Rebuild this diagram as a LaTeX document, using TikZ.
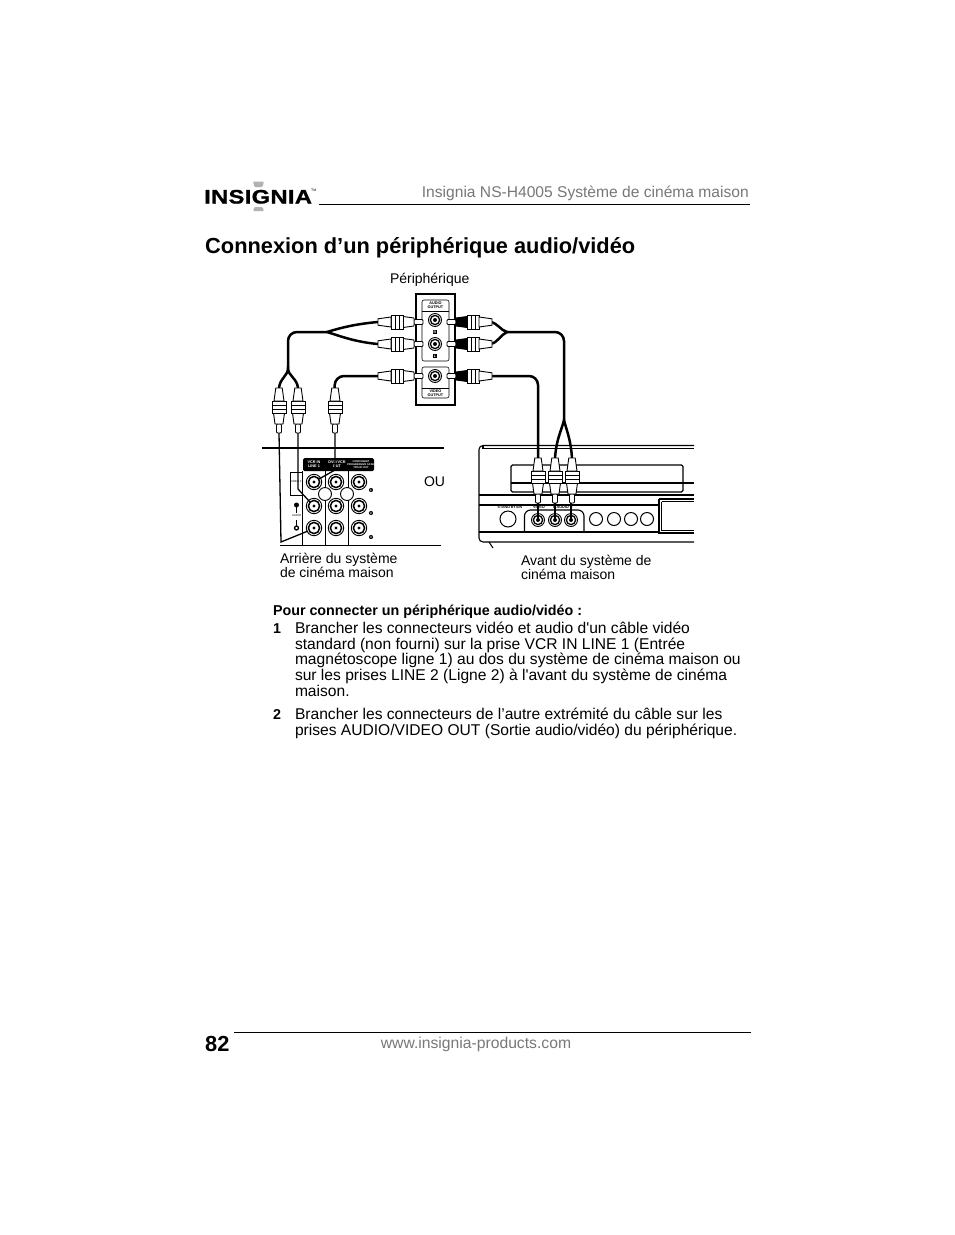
\documentclass[tikz,border=0pt]{standalone}
\usepackage{fontspec}
\setmainfont{Liberation Sans}[Ligatures=TeXOff]
\newfontfamily\logof[FakeStretch=1.22,FakeBold=1,LetterSpace=1.5]{Liberation Sans}
\definecolor{hdr}{gray}{0.47}
\tikzset{x=1pt,y=-1pt,
 txt/.style={inner sep=0pt,outer sep=0pt,anchor=base west,font=\fontsize{15.6}{16}\selectfont},
 boldtxt/.style={inner sep=0pt,outer sep=0pt,anchor=base west,font=\bfseries\fontsize{14.3}{15}\selectfont},
 sml/.style={inner sep=0pt,outer sep=0pt,anchor=base west,font=\fontsize{14}{14}\selectfont},
 microtxt/.style={inner sep=0pt,font=\bfseries\fontsize{3.8}{4.2}\selectfont,align=center},
 cable/.style={line width=2.5pt,line cap=round,line join=round,rounded corners=9pt},
 wire/.style={line width=1.3pt},
 panel/.style={line width=1.1pt},
 jackc/.style={line width=0.9pt,draw,fill=white}}
\newcommand{\plug}[4]{\begin{scope}[shift={#1},x={#2},y={#3},line width=0.9pt]
 \draw[fill=white,rounded corners=1pt] (0,-2.5) -- (9,-2.5) -- (9,2.5) -- (0,2.5) -- cycle;
 \draw[fill=#4] (9,-4) -- (20,-5.5) -- (20,5.5) -- (9,4) -- cycle;
 \draw[fill=white] (20,-7) rectangle (32,7);
 \draw (24,-7) -- (24,7) (28,-7) -- (28,7);
 \draw[fill=white] (32,-5) -- (45,-3.2) -- (45,3.2) -- (32,5) -- cycle;
\end{scope}}
\newcommand{\jackR}[2]{\draw[jackc] (#1,#2) circle (7.7); \draw[line width=1.5pt] (#1,#2) circle (5.6); \fill (#1,#2) circle (1.6);}
\newcommand{\jackF}[2]{\draw[jackc] (#1,#2) circle (6.5); \draw[line width=1.3pt] (#1,#2) circle (4.6); \fill (#1,#2) circle (2);}
\begin{document}
\begin{tikzpicture}
\useasboundingbox (0,0) rectangle (954,1235);
\fill[white] (0,0) rectangle (954,1235);
% ---------- header
\fill[gray!60,rounded corners=1pt] (253,181.5) -- (264,181.5) -- (262.5,187) -- (254.5,187) -- cycle;
\fill[gray!60,rounded corners=1pt] (254.5,207) -- (262.5,207) -- (264,211) -- (253,211) -- cycle;
\node[inner sep=0pt,anchor=base west] (logo) at (204,203.5) {\logof\bfseries\fontsize{19.5}{20}\selectfont INSIGNIA};
\node[inner sep=0pt,anchor=base west] (tm) at (311,191) {\fontsize{3.5}{4}\selectfont TM};
\node[inner sep=0pt,anchor=base east,text=hdr,font=\fontsize{15.6}{16}\selectfont] (runhead) at (749,197) {Insignia NS-H4005 Système de cinéma maison};
\draw[line width=1.1pt] (319,204.5) -- (750,204.5);
\node[inner sep=0pt,anchor=base west,font=\bfseries\fontsize{21.8}{24}\selectfont] (title) at (205,253) {Connexion d’un périphérique audio/vidéo};
% ---------- labels
\node[sml] (peri) at (390,283) {Périphérique};
\node[sml] (ou) at (424,486) {OU};
\node[sml] (arr1) at (280,563) {Arrière du système};
\node[sml] (arr2) at (280,577) {de cinéma maison};
\node[sml] (av1) at (521,565) {Avant du système de};
\node[sml] (av2) at (521,579) {cinéma maison};
% ---------- peripheral
\draw[panel] (416,294) rectangle (455,405);
\draw[line width=0.6pt,rounded corners=2pt] (422,300) rectangle (449,361);
\draw[line width=0.6pt,rounded corners=2pt] (422,367) rectangle (449,398);
\draw[line width=0.6pt] (422,311) -- (449,311) (422,388) -- (449,388);
\node[microtxt] (audout) at (435.5,305.5) {AUDIO\\[-0.5pt]OUTPUT};
\node[microtxt] (vidout) at (435.5,393) {VIDEO\\[-0.5pt]OUTPUT};
\jackF{435}{320}\jackF{435}{344}\jackF{435}{376}
\node[inner sep=0.8pt,fill=black,text=white,font=\bfseries\fontsize{3.5}{4}\selectfont] (lr) at (435,332) {R};
\node[inner sep=0.8pt,fill=black,text=white,font=\bfseries\fontsize{3.5}{4}\selectfont] (ll) at (435,356) {L};
% ---------- rear panel
\draw[line width=1.1pt] (262,448) -- (444,448);
\draw[line width=1.8pt] (280,545.5) -- (441,545.5);
\fill[rounded corners=1.5pt] (303,458) rectangle (374,471);
\draw[line width=0.7pt] (302.5,471) -- (302.5,545) (325,471) -- (325,545) (348,471) -- (348,545);
\draw[line width=0.7pt] (302.5,472) -- (290,472) -- (290,495) -- (302.5,495);
\node[microtxt,text=white] (vcrin) at (314,464.5) {VCR IN\\LINE 1};
\node[microtxt,text=white] (dvdout) at (337,464.5) {DVD/VCR\\OUT};
\node[inner sep=0pt,text=white,font=\bfseries\fontsize{2.6}{2.9}\selectfont,align=center] (comp) at (361,464.5) {COMPONENT\\PROGRESSIVE SCAN\\Y/Pb/Pr OUT};
\node[inner sep=0pt,font=\fontsize{2.8}{3}\selectfont] (v2) at (296,482) {VIDEO 2};
\node[inner sep=0pt,font=\fontsize{2.8}{3}\selectfont] (aud) at (296.5,516) {AUDIO};
\draw[line width=0.8pt] (296.5,505) -- (296.5,512.5) (296.5,519.5) -- (296.5,526);
\fill (296.5,505) circle (2.5); \draw[line width=1.3pt,fill=white] (296.5,528) circle (2);
\foreach \yy in {482,506,528}{\foreach \xx in {314,336,359}{\jackR{\xx}{\yy}}}
\draw[jackc] (325,494) circle (6.5);
\draw[jackc] (347,494) circle (6.5);
\foreach \yy/\lb in {490/1,513/2,537/3}{\node[circle,fill=black,text=white,inner sep=0.5pt,font=\bfseries\fontsize{3}{3}\selectfont] at (371,\yy) {\lb};}
% ---------- front panel
\draw[panel,rounded corners=4pt] (694,445.5) -- (479,445.5) -- (479,542) -- (694,542);
\draw[panel] (483,448.5) -- (694,448.5);
\draw[panel] (483,445.5) -- (483,448.5);
\draw[panel] (489,542) -- (493,548);
\draw[panel,rounded corners=1.5pt] (511,465) rectangle (683,492);
\draw[panel] (511,483) -- (694,483);
\draw[panel] (479,495) -- (694,495);
\draw[panel] (479,505) -- (659,505);
\draw[panel] (479,532) -- (659,532);
\draw[panel,rounded corners=6pt] (524.5,532) -- (524.5,510) -- (584,510) -- (584,532);
\draw[panel] (659,499) -- (694,499) (659,499) -- (659,533) -- (694,533);
\draw[line width=0.7pt] (661.5,501.5) -- (694,501.5) (661.5,501.5) -- (661.5,530.5) -- (694,530.5);
\draw[line width=1pt] (508,519) circle (8);
\foreach \xx in {596,614,631,647}{\draw[line width=1pt] (\xx,519) circle (6.5);}
\node[microtxt,font=\bfseries\fontsize{3.6}{4}\selectfont] (stby) at (510,507.5) {STAND BY/ON};
\node[microtxt,fill=white,inner xsep=1pt] (fvid) at (539,507.5) {VIDEO};
\node[microtxt,fill=white,inner xsep=1pt] (faud) at (563,507.5) {L AUDIO R};
\jackF{538}{520}\jackF{555}{520}\jackF{571}{520}
% ---------- cables, left group
\coordinate (la) at (378,322); \coordinate (lb) at (378,344); \coordinate (lm) at (327,332);
\coordinate (lc) at (378,376);
\draw[line width=2.5pt,line cap=round] (la) .. controls (355,324) and (340,328) .. (lm) .. controls (340,336) and (355,342) .. (lb);
\draw[cable] (lm) -- (288,332) -- (288,368);
\coordinate (ls) at (288,368);
\draw[line width=2.5pt,line cap=round] (279,388) .. controls (280,378) and (288,376) .. (ls) .. controls (288,376) and (297,378) .. (298,388);
\draw[cable] (lc) -- (335,376) -- (334.5,390);
% ---------- cables, right group
\coordinate (ra) at (490,322); \coordinate (rb) at (490,344); \coordinate (rm) at (507,332);
\draw[line width=2.5pt,line cap=round] (ra) .. controls (498,323) and (500,330) .. (rm) .. controls (500,335) and (498,343) .. (rb);
\draw[cable] (rm) -- (564,332) -- (564,420);
\coordinate (rs) at (564,420);
\draw[line width=2.5pt,line cap=round] (555,459) .. controls (556,440) and (561,432) .. (rs) .. controls (567,432) and (571,440) .. (572,459);
\draw[cable] (490,376) -- (538,376) -- (538,459);
% ---------- plugs
\plug{(423,322)}{(-1pt,0pt)}{(0pt,1pt)}{white}
\plug{(423,344)}{(-1pt,0pt)}{(0pt,1pt)}{white}
\plug{(423,376)}{(-1pt,0pt)}{(0pt,1pt)}{white}
\plug{(447,322)}{(1pt,0pt)}{(0pt,1pt)}{black}
\plug{(447,344)}{(1pt,0pt)}{(0pt,1pt)}{black}
\plug{(447,376)}{(1pt,0pt)}{(0pt,1pt)}{black}
\plug{(279,433)}{(0pt,1pt)}{(1pt,0pt)}{white}
\plug{(298,433)}{(0pt,1pt)}{(1pt,0pt)}{white}
\plug{(335,433)}{(0pt,1pt)}{(1pt,0pt)}{white}
\plug{(538,503)}{(0pt,1pt)}{(1pt,0pt)}{white}
\plug{(555,503)}{(0pt,1pt)}{(1pt,0pt)}{white}
\plug{(572,503)}{(0pt,1pt)}{(1pt,0pt)}{white}
% ---------- wires to the jacks
\draw[wire] (279,433) -- (281,542) -- (308,531);
\draw[wire] (298,433) -- (298,489) -- (310,502);
\draw[wire] (335,433) -- (335,470) -- (319,479);
\draw[wire] (538,503) -- (538,520) (555,503) -- (555,520) (571,503) -- (571,520);
% ---------- text
\node[boldtxt] (lead) at (273,615) {Pour connecter un périphérique audio/vidéo :};
\node[boldtxt] (n1) at (273,633) {1};
\node[txt] (l1) at (295,633) {Brancher les connecteurs vidéo et audio d'un câble vidéo};
\node[txt] (l2) at (295,649) {standard (non fourni) sur la prise VCR IN LINE 1 (Entrée};
\node[txt] (l3) at (295,664) {magnétoscope ligne 1) au dos du système de cinéma maison ou};
\node[txt] (l4) at (295,680) {sur les prises LINE 2 (Ligne 2) à l'avant du système de cinéma};
\node[txt] (l5) at (295,696) {maison.};
\node[boldtxt] (n2) at (273,719) {2};
\node[txt] (l6) at (295,719) {Brancher les connecteurs de l’autre extrémité du câble sur les};
\node[txt] (l7) at (295,735) {prises AUDIO/VIDEO OUT (Sortie audio/vidéo) du périphérique.};
% ---------- footer
\draw[line width=1.6pt] (234,1032.5) -- (751,1032.5);
\node[inner sep=0pt,anchor=base west,font=\bfseries\fontsize{21.8}{24}\selectfont] (page) at (205,1051) {82};
\node[inner sep=0pt,anchor=base,text=hdr,font=\fontsize{15.7}{16}\selectfont] (url) at (476,1048) {www.insignia-products.com};
\end{tikzpicture}
\end{document}
